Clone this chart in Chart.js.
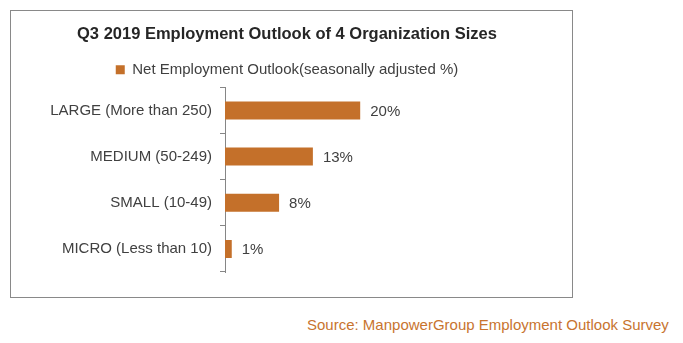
<!DOCTYPE html>
<html><head><meta charset="utf-8">
<script src="https://cdn.jsdelivr.net/npm/chart.js@4/dist/chart.umd.min.js"></script>
<style>
html,body{margin:0;padding:0;background:#fff;width:683px;height:343px;overflow:hidden;font-family:"Liberation Sans",Arial,sans-serif;}
#box{position:absolute;left:10px;top:10px;width:561px;height:286px;border:1px solid #898989;}
#src{position:absolute;left:307px;top:316px;font-size:15px;color:#C8742F;white-space:nowrap;}
</style></head>
<body>
<div id="box"><canvas id="c" width="561" height="286"></canvas></div>
<div id="src">Source: ManpowerGroup Employment Outlook Survey</div>
<script>
const categories = ["LARGE (More than 250)", "MEDIUM (50-249)", "SMALL (10-49)", "MICRO (Less than 10)"];
const outlookValues = [20, 13, 8, 1];
const seriesName = "Net Employment Outlook(seasonally adjusted %)";
const chartTitle = "Q3 2019 Employment Outlook of 4 Organization Sizes";

const barColor = "#C4702A";
const textColor = "#404040";
const fontFam = "'Liberation Sans', Arial, sans-serif";

const valueLabels = {
  id: "valueLabels",
  afterDatasetsDraw(chart) {
    const ctx = chart.ctx;
    const meta = chart.getDatasetMeta(0);
    ctx.save();
    ctx.font = "15px " + fontFam;
    ctx.fillStyle = textColor;
    ctx.textAlign = "left";
    ctx.textBaseline = "middle";
    meta.data.forEach((el, i) => {
      ctx.fillText(outlookValues[i] + "%", el.x + 10, el.y + 1);
    });
    ctx.restore();
  }
};

new Chart(document.getElementById("c"), {
  type: "bar",
  data: {
    labels: categories,
    datasets: [{
      label: seriesName,
      data: outlookValues,
      backgroundColor: barColor,
      borderWidth: 0,
      barPercentage: 0.39,
      categoryPercentage: 1.0
    }]
  },
  options: {
    indexAxis: "y",
    responsive: false,
    animation: false,
    layout: { padding: { left: 0, right: 9, top: 0, bottom: 25 } },
    scales: {
      x: { display: false, min: 0, max: 50 },
      y: {
        afterFit(scale) { scale.width = 214; },
        grid: { offset: true, drawOnChartArea: false, drawTicks: true, tickLength: 5, color: "#868686" },
        border: { display: true, color: "#868686", width: 1 },
        ticks: { color: textColor, font: { size: 15, family: fontFam }, padding: 8 }
      }
    },
    plugins: {
      title: {
        display: true,
        text: chartTitle,
        color: "#262626",
        font: { size: 16.5, weight: "bold", family: fontFam },
        padding: { top: 14, bottom: 6.5 }
      },
      legend: {
        display: true,
        position: "top",
        labels: {
          color: textColor,
          boxWidth: 9, boxHeight: 9,
          padding: 11,
          font: { size: 15, family: fontFam }
        }
      },
      tooltip: { enabled: false }
    }
  },
  plugins: [valueLabels]
});
</script>
</body></html>
